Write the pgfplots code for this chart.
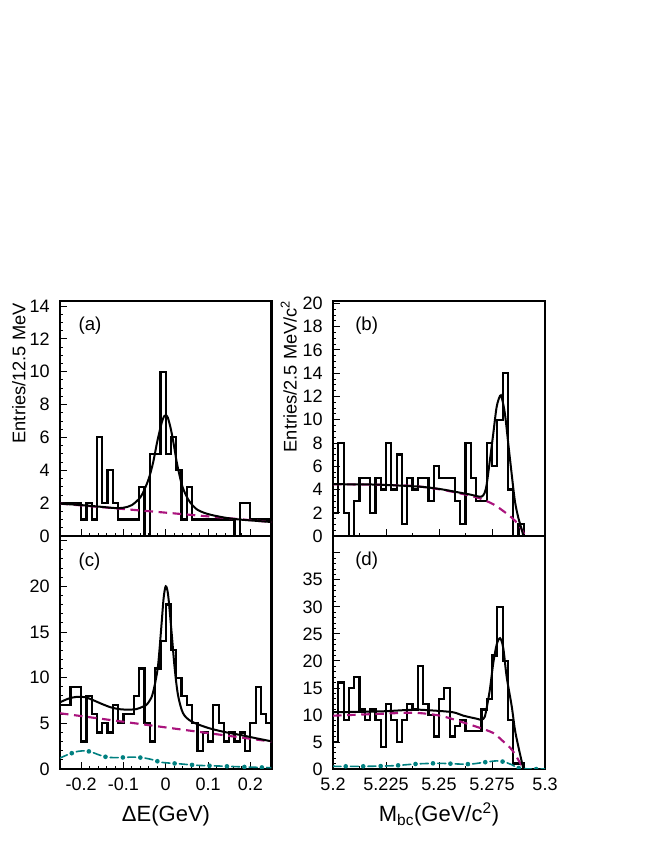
\documentclass[border=0pt]{standalone}
\usepackage{pgfplots}
\pgfplotsset{compat=1.18}
\usepackage{pgfplotstable}
\usepackage{fontspec}
\setmainfont{Liberation Sans}

\definecolor{bgmag}{RGB}{170,20,125}
\definecolor{bbteal}{RGB}{0,128,128}

% histograms: left bin edge, entries (last row closes the last bin)
\pgfplotstableread{
x y
-0.25 2
-0.2375 2
-0.225 2
-0.2125 2
-0.2 1
-0.1875 2
-0.175 1
-0.1625 6
-0.15 2
-0.1375 4
-0.125 2
-0.1125 1
-0.1 1
-0.0875 1
-0.075 1
-0.0625 3
-0.05 0
-0.0375 5
-0.025 5
-0.0125 10
0 5
0.0125 6
0.025 4
0.0375 1
0.05 3
0.0625 1
0.075 1
0.0875 1
0.1 1
0.1125 1
0.125 1
0.1375 1
0.15 1
0.1625 0
0.175 2
0.1875 2
0.2 1
0.2125 1
0.225 1
0.2375 1
0.25 1
}\histA

\pgfplotstableread{
x y
5.2 2
5.2025 8
5.205 2
5.2075 0
5.21 3
5.2125 5
5.215 5
5.2175 2
5.22 5
5.2225 4
5.225 8
5.2275 4
5.23 7
5.2325 1
5.235 5
5.2375 4
5.24 5
5.2425 5
5.245 3
5.2475 6
5.25 5
5.2525 5
5.255 5
5.2575 3
5.26 1
5.2625 8
5.265 5
5.2675 3
5.27 3
5.2725 8
5.275 6
5.2775 10
5.28 14
5.2825 4
5.285 0
5.2875 1
5.29 0
5.2925 0
5.295 0
5.2975 0
5.3 0
}\histB

\pgfplotstableread{
x y
-0.25 7
-0.2375 7
-0.225 9
-0.2125 9
-0.2 3
-0.1875 8
-0.175 6
-0.1625 4
-0.15 5
-0.1375 4
-0.125 7
-0.1125 5
-0.1 6
-0.0875 6
-0.075 8
-0.0625 11
-0.05 5
-0.0375 3
-0.025 11
-0.0125 14
0 18
0.0125 13
0.025 10
0.0375 8
0.05 7
0.0625 5
0.075 2
0.0875 4
0.1 3
0.1125 7
0.125 5
0.1375 3
0.15 4
0.1625 3
0.175 4
0.1875 2
0.2 5
0.2125 9
0.225 6
0.2375 5
0.25 5
}\histC

\pgfplotstableread{
x y
5.2 5
5.2025 16
5.205 9
5.2075 15
5.21 17
5.2125 11
5.215 9
5.2175 11
5.22 9
5.2225 4
5.225 12
5.2275 9
5.23 5
5.2325 9
5.235 12
5.2375 11
5.24 19
5.2425 12
5.245 10
5.2475 6
5.25 13
5.2525 15
5.255 6
5.2575 8
5.26 9
5.2625 7
5.265 7
5.2675 7
5.27 11
5.2725 13
5.275 21
5.2775 30
5.28 20
5.2825 9
5.285 1
5.2875 1
5.29 0
5.2925 0
5.295 0
5.2975 0
5.3 0
}\histD

\pgfplotsset{
  panel/.style={
    scale only axis,
    axis line style={line width=1.6pt},
    tick pos=left,
    tick align=inside,
    major tick length=5pt,
    minor tick length=2.6pt,
    every tick/.style={black, line width=0.6pt},
    /pgf/number format/assume math mode=true,
    tick label style={font=\fontsize{13.5}{15}\selectfont},
    yticklabel style={inner sep=0pt, xshift=-7.5pt},
    xticklabel style={inner sep=0pt, yshift=-6.8pt},
    clip=true,
  },
  dE/.style={xmin=-0.25, xmax=0.25, xtick={-0.2,-0.1,0,0.1,0.2}, minor x tick num=4},
  mbc/.style={xmin=5.2, xmax=5.3, xtick={5.2,5.225,5.25,5.275,5.3}, minor x tick num=1},
  hist/.style={const plot, black, line width=1.65pt, line join=miter},
  tot/.style={smooth, black, line width=1.5pt},
  bkg/.style={smooth, bgmag, line width=1.6pt, dash pattern=on 6.4pt off 4.2pt},
  bbl/.style={smooth, bbteal, line width=1.2pt, dash pattern=on 6pt off 3.55pt on 0pt off 3.55pt, line cap=round},
  bbd/.style={smooth, bbteal, line width=3.5pt, dash pattern=on 0pt off 13.1pt, dash phase=3.55pt, line cap=round},
}

\begin{document}
\begin{tikzpicture}
\useasboundingbox (0,0) rectangle (490.5pt,634.5pt);

% (a)
\begin{axis}[panel, dE, at={(45pt,232.5pt)}, anchor=south west,
  width=158.6pt, height=176.25pt,
  ymin=0, ymax=14.3, ytick={0,2,...,14}, minor y tick num=3,
  xticklabels={}]
\addplot[hist] table {\histA};
\addplot[bkg] coordinates {(-0.25,1.97) (0,1.42) (0.25,0.85)};
\addplot[tot] coordinates {(-0.25,1.97) (-0.2,1.88) (-0.15,1.77) (-0.12,1.70) (-0.1,1.72) (-0.08,1.88) (-0.06,2.35) (-0.05,2.85) (-0.04,3.5) (-0.03,4.45) (-0.02,5.75) (-0.01,6.85) (-0.004,7.28) (0,7.35) (0.005,7.2) (0.013,6.4) (0.021,5.27) (0.027,4.36) (0.039,3.04) (0.053,2.23) (0.065,1.82) (0.076,1.58) (0.09,1.42) (0.108,1.28) (0.139,1.12) (0.171,1.01) (0.21,0.93) (0.25,0.85)};
\end{axis}

% (b)
\begin{axis}[panel, mbc, at={(249.75pt,232.5pt)}, anchor=south west,
  width=159pt, height=176.25pt,
  ymin=0, ymax=20.2, ytick={0,2,...,20}, minor y tick num=3,
  xticklabels={}]
\addplot[hist] table {\histB};
\addplot[bkg] coordinates {(5.2,4.45) (5.222,4.4) (5.238,4.3) (5.25,4.02) (5.2615,3.6) (5.269,3.25) (5.2756,2.73) (5.2803,2.15) (5.2843,1.58) (5.2874,1.0) (5.2898,0.3) (5.2904,0)};
\addplot[tot] coordinates {(5.2,4.45) (5.22,4.42) (5.24,4.25) (5.25,4.05) (5.26,3.72) (5.265,3.55) (5.268,3.42) (5.2701,3.38) (5.2715,3.7) (5.2725,4.45) (5.274,6.5) (5.2756,8.8) (5.2772,11.1) (5.2788,12.05) (5.2796,11.9) (5.2811,10.5) (5.2827,7.9) (5.2843,5.3) (5.2858,3.0) (5.2874,1.58) (5.289,0.57) (5.2898,0)};
\end{axis}

% (c)
\begin{axis}[panel, dE, at={(45pt,57.75pt)}, anchor=south west,
  width=158.6pt, height=174.75pt,
  ymin=0, ymax=25.5, ytick={0,5,...,25}, yticklabels={0,5,10,15,20,}, minor y tick num=4,
  xticklabels={-0.2,-0.1,0,0.1,0.2}]
\addplot[hist] table {\histC};
\addplot[bkg] coordinates {(-0.25,6.1) (0,4.55) (0.25,3.0)};
\addplot[bbl] coordinates {(-0.25,1.2) (-0.23,1.6) (-0.208,1.93) (-0.19,1.98) (-0.176,1.86) (-0.155,1.5) (-0.137,1.28) (-0.115,1.25) (-0.097,1.27) (-0.075,1.3) (-0.05,1.2) (-0.03,1.0) (-0.01,0.73) (0.029,0.58) (0.076,0.40) (0.124,0.33) (0.171,0.25) (0.218,0.18) (0.25,0.15)};
\addplot[bbd] coordinates {(-0.25,1.2) (-0.23,1.6) (-0.208,1.93) (-0.19,1.98) (-0.176,1.86) (-0.155,1.5) (-0.137,1.28) (-0.115,1.25) (-0.097,1.27) (-0.075,1.3) (-0.05,1.2) (-0.03,1.0) (-0.01,0.73) (0.029,0.58) (0.076,0.40) (0.124,0.33) (0.171,0.25) (0.218,0.18) (0.25,0.15)};
\addplot[tot] coordinates {(-0.25,7.3) (-0.23,7.7) (-0.21,7.9) (-0.19,7.85) (-0.17,7.5) (-0.15,7.1) (-0.13,6.75) (-0.11,6.55) (-0.09,6.5) (-0.07,6.55) (-0.055,6.8) (-0.046,7.0) (-0.034,7.8) (-0.026,9.2) (-0.018,11.4) (-0.01,15.8) (-0.005,18.7) (0,20) (0.0055,19.1) (0.013,15.4) (0.021,11.1) (0.029,8.1) (0.041,6.1) (0.061,5.2) (0.1,4.5) (0.139,4.05) (0.179,3.7) (0.215,3.35) (0.25,3.03)};
\end{axis}

% (d)
\begin{axis}[panel, mbc, at={(249.75pt,57.75pt)}, anchor=south west,
  width=159pt, height=174.75pt,
  ymin=0, ymax=43.1, ytick={0,5,...,40}, yticklabels={0,5,10,15,20,25,30,35,}, minor y tick num=4,
  xticklabels={5.2,5.225,5.25,5.275,5.3}]
\addplot[hist] table {\histD};
\addplot[bkg] coordinates {(5.2,9.86) (5.222,10.2) (5.238,10.4) (5.2505,9.86) (5.2615,8.6) (5.2693,7.6) (5.2756,6.65) (5.2803,5.1) (5.2843,3.6) (5.2874,1.7) (5.2898,0)};
\addplot[bbl] coordinates {(5.2,0.5) (5.215,0.5) (5.228,0.6) (5.24,0.95) (5.25,1.05) (5.261,0.9) (5.266,0.95) (5.2725,1.3) (5.2772,1.5) (5.2803,1.35) (5.2843,0.8) (5.2874,0.2) (5.293,0) (5.3,0)};
\addplot[bbd] coordinates {(5.2,0.5) (5.215,0.5) (5.228,0.6) (5.24,0.95) (5.25,1.05) (5.261,0.9) (5.266,0.95) (5.2725,1.3) (5.2772,1.5) (5.2803,1.35) (5.2843,0.8) (5.2874,0.2) (5.293,0) (5.3,0)};
\addplot[tot] coordinates {(5.2,10.5) (5.222,10.65) (5.238,10.97) (5.246,10.85) (5.2565,10.5) (5.2615,9.86) (5.2678,9.3) (5.2701,9.1) (5.2715,9.6) (5.2725,11.3) (5.274,14.7) (5.2756,19.6) (5.2772,23) (5.2788,24.2) (5.2803,22.4) (5.2819,17.1) (5.2843,11.6) (5.2858,7.3) (5.2874,4.2) (5.289,1.4) (5.2898,0)};
\end{axis}

% axis titles and panel tags
\node[rotate=90, anchor=base east, inner sep=0pt, font=\fontsize{13.7}{16}\selectfont] at (19.1pt,407.25pt) {Entries/12.5 MeV};
\node[rotate=90, anchor=base east, inner sep=0pt, font=\fontsize{13.7}{16}\selectfont] at (222.4pt,409.5pt) {Entries/2.5 MeV/c\textsuperscript{2}};
\node[anchor=base, inner sep=0pt, font=\fontsize{16.5}{19}\selectfont] at (124.5pt,18pt) {ΔE(GeV)};
\node[anchor=base, inner sep=0pt, font=\fontsize{16.5}{19}\selectfont] at (329.25pt,18.2pt) {M\textsubscript{bc}(GeV/c\textsuperscript{2})};
\foreach \t/\x/\y in {(a)/58.7pt/386.25pt, (b)/266.25pt/386.25pt, (c)/58.7pt/209.25pt, (d)/266.25pt/210pt}
  \node[anchor=base west, inner sep=0pt, font=\fontsize{14}{16}\selectfont] at (\x,\y) {\t};
\end{tikzpicture}
\end{document}
